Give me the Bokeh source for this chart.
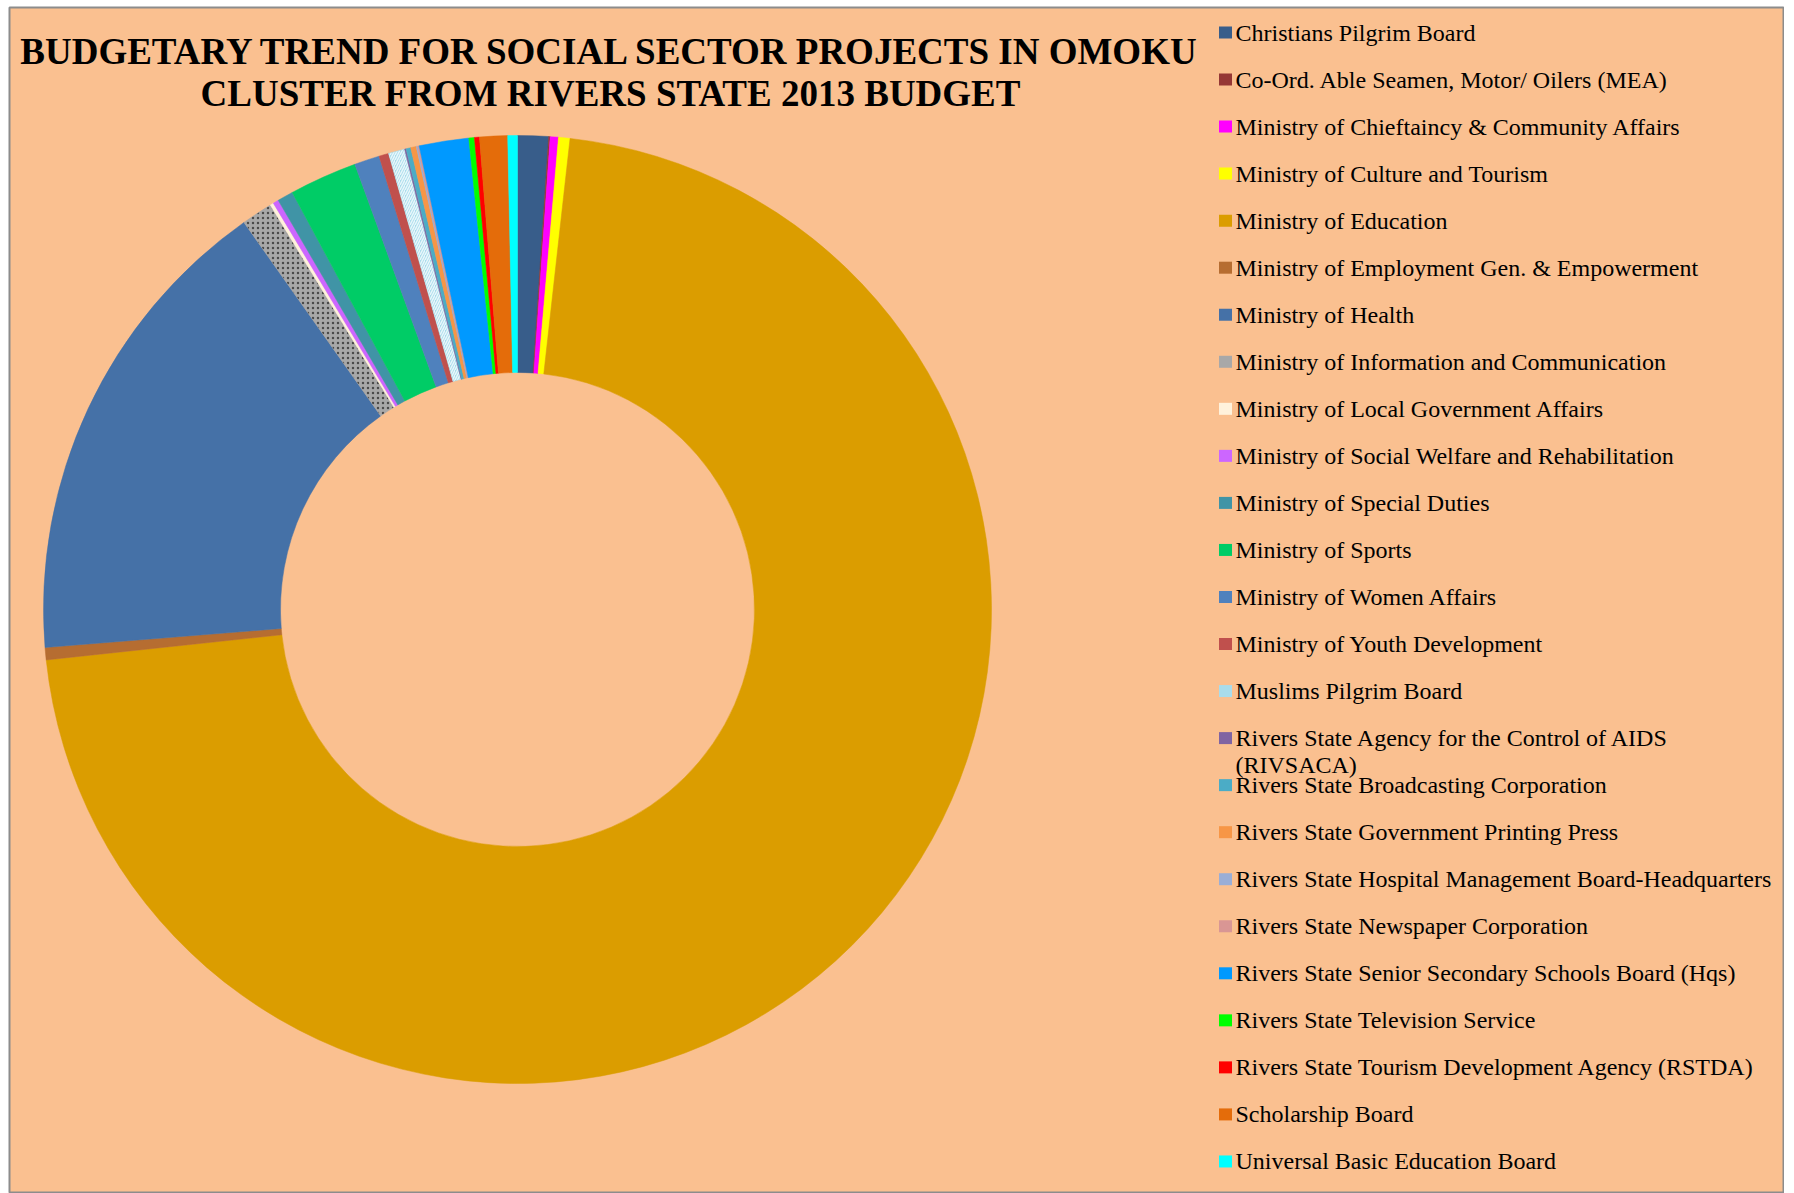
import textwrap
import numpy as np
from bokeh.plotting import figure
from bokeh.models import ColumnDataSource, Range1d
from bokeh.core.properties import value
from bokeh.embed import file_html
from bokeh.resources import INLINE

# ---------------- data ----------------
title_lines = ["BUDGETARY TREND FOR SOCIAL SECTOR PROJECTS IN OMOKU",
               "CLUSTER FROM RIVERS STATE 2013 BUDGET"]

categories = [
    "Christians Pilgrim Board",
    "Co-Ord. Able Seamen, Motor/ Oilers (MEA)",
    "Ministry of Chieftaincy & Community Affairs",
    "Ministry of Culture and Tourism",
    "Ministry of Education",
    "Ministry of Employment Gen. & Empowerment",
    "Ministry of Health",
    "Ministry of Information and Communication",
    "Ministry of Local Government Affairs",
    "Ministry of Social Welfare and Rehabilitation",
    "Ministry of Special Duties",
    "Ministry of Sports",
    "Ministry of Women Affairs",
    "Ministry of Youth Development",
    "Muslims Pilgrim Board",
    "Rivers State Agency for the Control of AIDS (RIVSACA)",
    "Rivers State Broadcasting Corporation",
    "Rivers State Government Printing Press",
    "Rivers State Hospital Management Board-Headquarters",
    "Rivers State Newspaper Corporation",
    "Rivers State Senior Secondary Schools Board (Hqs)",
    "Rivers State Television Service",
    "Rivers State Tourism Development Agency (RSTDA)",
    "Scholarship Board",
    "Universal Basic Education Board",
]

# share of the cluster budget (%)
shares = [1.05, 0.05, 0.28, 0.39, 71.60, 0.42, 16.50, 1.06, 0.12, 0.19,
          0.54, 2.31, 0.86, 0.33, 0.56, 0.05, 0.16, 0.19, 0.05, 0.05,
          1.69, 0.19, 0.17, 0.95, 0.33]

colors = ["#385D8A", "#953735", "#FF00FF", "#FFFF00", "#DB9D00", "#B66D31",
          "#4571A7", "#A8A8A8", "#FFF2DC", "#CC66FF", "#4094A6", "#00CC66",
          "#4F81BD", "#C0504D", "#A9DCEB", "#8064A2", "#4BACC6", "#F79646",
          "#9AAED6", "#D99694", "#0099FF", "#00FF00", "#FF0000", "#E46C0A",
          "#00FFFF"]

hatches = [" "] * len(categories)
hatch_colors = ["#000000"] * len(categories)
hatches[7] = "dot"; hatch_colors[7] = "#4A4A4A"
hatches[14] = "right_diagonal_line"; hatch_colors[14] = "#E8F7FB"

# ---------------- layout ----------------
PW, PH = 1784, 1193          # canvas size
L, T = 9, 7                  # frame offset (chart-area border)
FW, FH = PW - L, PH - T      # frame size
BG = "#FAC090"
FONT = "Liberation Serif"

def X(fx):  # image x -> data x
    return fx - L

def Y(fy):  # image y (from top) -> data y
    return FH - (fy - T)

p = figure(width=PW, height=PH, output_backend="svg", toolbar_location=None,
           x_range=Range1d(0, FW), y_range=Range1d(0, FH),
           min_border_left=L, min_border_top=T, min_border_right=0,
           min_border_bottom=0)
p.axis.visible = False
p.grid.visible = False
p.background_fill_color = BG
p.border_fill_color = "#FFFFFF"
p.outline_line_color = "#8C8C8C"
p.outline_line_width = 2

vals = np.array(shares, dtype=float)
frac = vals / vals.sum()
cum = np.concatenate([[0.0], np.cumsum(frac)])
start = np.pi / 2 - 2 * np.pi * cum[:-1]
end = np.pi / 2 - 2 * np.pi * cum[1:]

src = ColumnDataSource(dict(start=start, end=end, color=colors,
                            hatch=hatches, hcolor=hatch_colors, name=categories))

p.annular_wedge(x=X(517), y=Y(609), inner_radius=237, outer_radius=474,
                inner_radius_units="screen", outer_radius_units="screen",
                start_angle="start", end_angle="end", direction="clock",
                fill_color="color", line_color="color", line_width=0.5,
                hatch_pattern="hatch", hatch_color="hcolor", hatch_scale=5,
                hatch_weight=1.5, source=src)

# title
p.text(x=[X(610), X(610)], y=[Y(51), Y(93)], text=title_lines,
       text_font=value(FONT), text_font_style="bold", text_font_size="37px",
       text_align="center", text_baseline="middle", text_color="#000000")

# legend
row0, step = 32, 47.04
mx, tx = 1225, 1235
lx, ly, lt = [], [], []
for i, name in enumerate(categories):
    yy = row0 + step * i
    for j, line in enumerate(textwrap.wrap(name, 52)):
        lx.append(X(tx)); ly.append(Y(yy + 27 * j)); lt.append(line)
p.rect(x=[X(mx)] * len(categories),
       y=[Y(row0 + step * i) for i in range(len(categories))],
       width=13, height=12, width_units="screen", height_units="screen",
       fill_color=colors, line_color=None)
p.text(x=lx, y=ly, text=lt, text_font=value(FONT), text_font_size="24px",
       text_align="left", text_baseline="middle", text_color="#000000")

open("out.html", "w").write(file_html(p, INLINE))
